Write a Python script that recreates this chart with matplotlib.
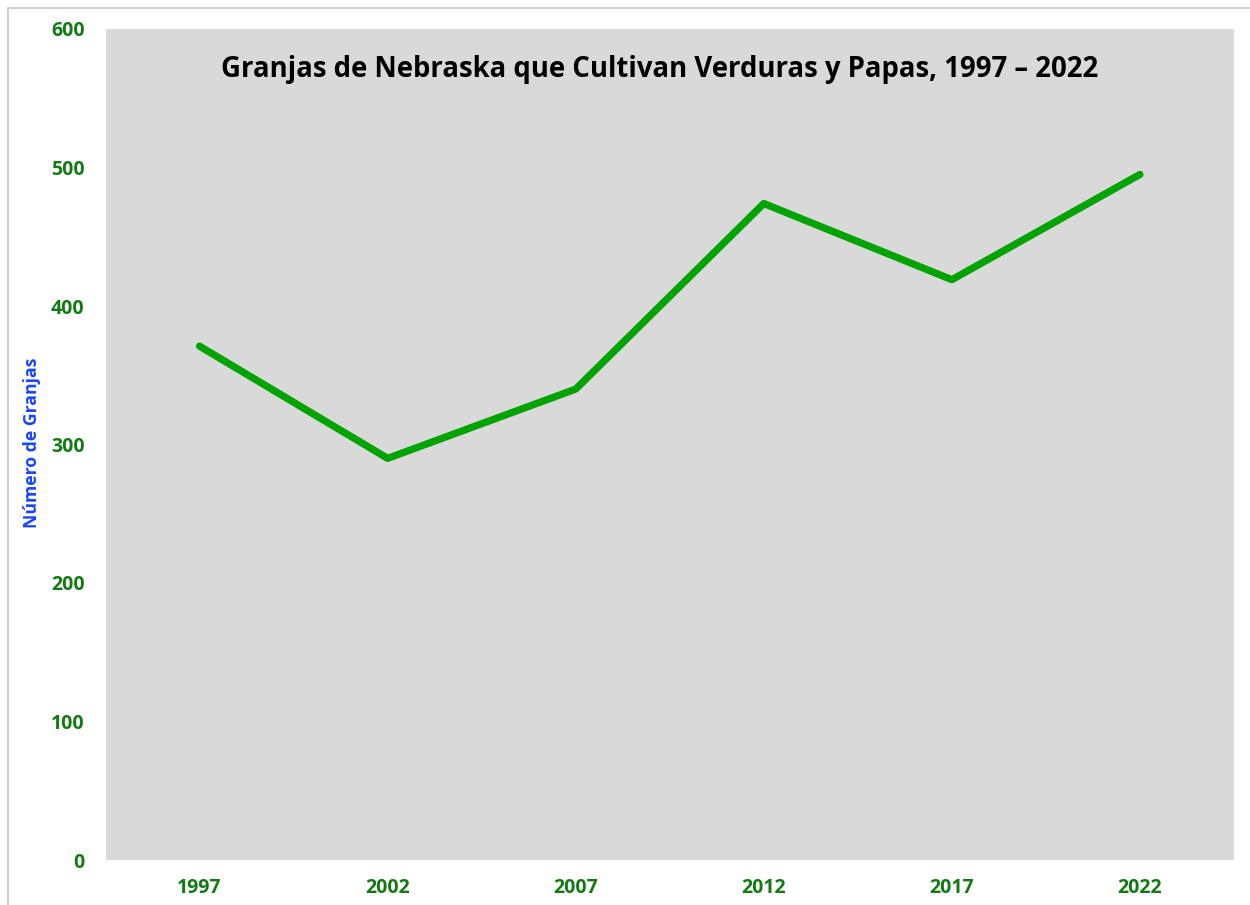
import matplotlib
matplotlib.use("Agg")
import matplotlib.pyplot as plt
from matplotlib.lines import Line2D

years = ["1997", "2002", "2007", "2012", "2017", "2022"]
farms = [371, 290, 340, 474, 419, 495]
y_ticks = [0, 100, 200, 300, 400, 500, 600]

title = "Granjas de Nebraska que Cultivan Verduras y Papas, 1997 \u2013 2022"
ylabel = "Número de Granjas"

plt.rcParams['font.family'] = ['Open Sans', 'DejaVu Sans']

fig = plt.figure(figsize=(12.5, 9.05), dpi=100)
ax = fig.add_axes([105.5/1250, 1-860/905, (1234-105.5)/1250, (860-29)/905])
ax.set_facecolor('#d9d9d9')

x = list(range(len(years)))
ax.plot(x, farms, color='#00a300', lw=5.2, solid_capstyle='round', solid_joinstyle='round')

ax.set_xlim(-0.5, len(years) - 0.5)
ax.set_ylim(0, 600)
ax.set_xticks(x)
ax.set_xticklabels(years)
ax.set_yticks(y_ticks)
for s in ax.spines.values():
    s.set_visible(False)
ax.tick_params(axis='both', length=0, colors='#137a13', labelsize=14)
ax.tick_params(axis='y', pad=15)
ax.tick_params(axis='x', pad=13)
for lab in ax.get_xticklabels() + ax.get_yticklabels():
    lab.set_fontweight('bold')

fig.text(32/1250, 1-443/905, ylabel, rotation=90, ha='center', va='center',
         color='#1a45ff', fontsize=12.7, fontweight='bold')
fig.text(660/1250, 1-69/905, title, ha='center', va='center',
         color='black', fontsize=19.8, fontweight='bold')

# light frame around chart
fig.add_artist(Line2D([8/1250, 8/1250], [0, 1-8/905], transform=fig.transFigure, color='#d0d0d0', lw=1.5))
fig.add_artist(Line2D([8/1250, 1], [1-8/905, 1-8/905], transform=fig.transFigure, color='#d0d0d0', lw=1.5))

fig.savefig("out.png", dpi=100)
